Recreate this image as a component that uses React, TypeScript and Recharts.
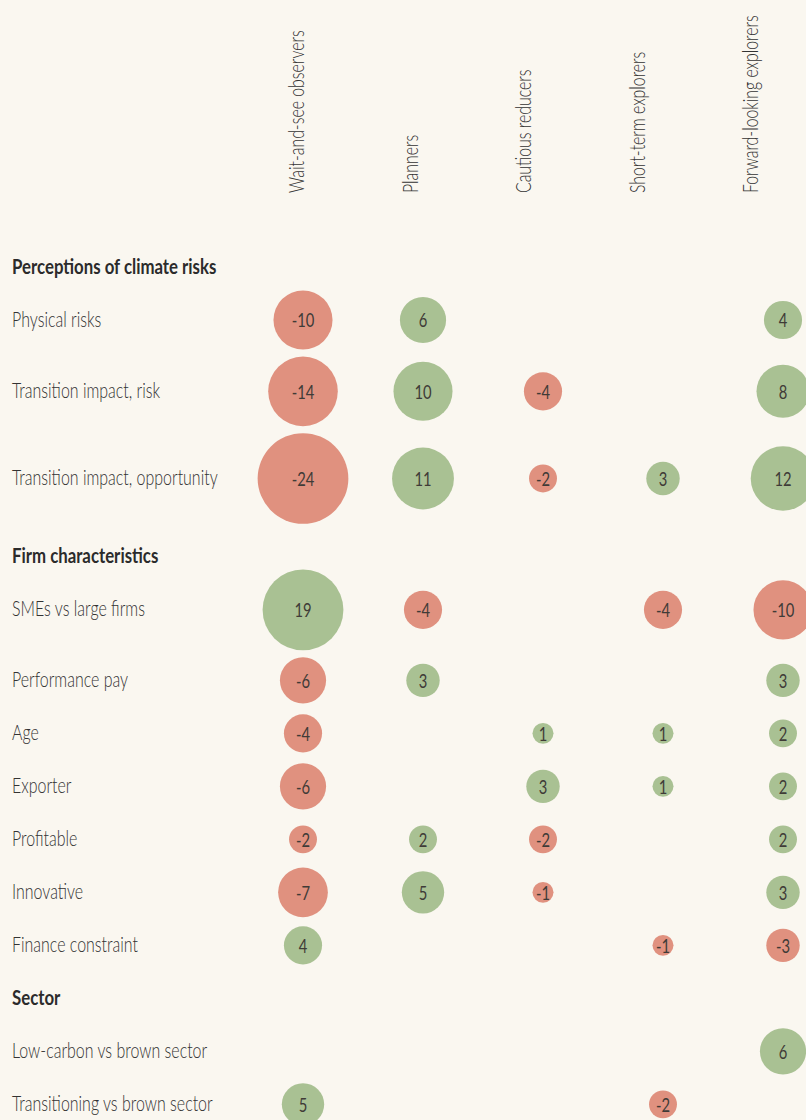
import React from "react";
import { ScatterChart, Scatter, XAxis, YAxis, ZAxis } from "recharts";

// ---- data ----
const segments = [
  "Wait-and-see observers",
  "Planners",
  "Cautious reducers",
  "Short-term explorers",
  "Forward-looking explorers",
];
const groups = ["Perceptions of climate risks", "Firm characteristics", "Sector"];
const rowNames = [
  "Physical risks",
  "Transition impact, risk",
  "Transition impact, opportunity",
  "SMEs vs large firms",
  "Performance pay",
  "Age",
  "Exporter",
  "Profitable",
  "Innovative",
  "Finance constraint",
  "Low-carbon vs brown sector",
  "Transitioning vs brown sector",
];
const rowGroup = [0, 0, 0, 1, 1, 1, 1, 1, 1, 1, 2, 2];

const waitAndSee = [-10, -14, -24, 19, -6, -4, -6, -2, -7, 4, null, 5];
const planners = [6, 10, 11, -4, 3, null, null, 2, 5, null, null, null];
const cautiousReducers = [null, -4, -2, null, null, 1, 3, -2, -1, null, null, null];
const shortTermExplorers = [null, null, 3, -4, null, 1, 1, null, null, -1, null, -2];
const forwardLooking = [4, 8, 12, -10, 3, 2, 2, 2, 3, -3, 6, null];
const seriesValues: (number | null)[][] = [
  waitAndSee,
  planners,
  cautiousReducers,
  shortTermExplorers,
  forwardLooking,
];

// ---- style ----
const W = 806;
const H = 1120;
const BG = "#faf7f0";
const RED = "#e0917f";
const GREEN = "#a9c193";
const TEXT = "#333333";
const FONT = "Lato, 'Noto Sans', sans-serif";
const SQ_ROW = 0.76;
const SQ_HEAD = 0.8;
const SQ_COL = 0.72;
const SQ_NUM = 0.74;
const Z_MAX = 24;
const AREA_RANGE: [number, number] = [80, 6464];
const TOP_H = 230;
const LEFT_W = 303;
const RIGHT_M = 23;
const PLOT_H = H - TOP_H;

const radiusOf = (v: number) =>
  Math.sqrt((AREA_RANGE[0] + ((AREA_RANGE[1] - AREA_RANGE[0]) * Math.abs(v)) / Z_MAX) / Math.PI);

// ---- layout of rows (derived from bubble sizes) ----
type Item = { label: string; header: boolean; maxR: number; row: number };
const items: Item[] = [];
groups.forEach((g, gi) => {
  items.push({ label: g, header: true, maxR: 0, row: -1 });
  rowNames.forEach((name, ri) => {
    if (rowGroup[ri] !== gi) return;
    let m = 0;
    seriesValues.forEach((s) => {
      const v = s[ri];
      if (v != null) m = Math.max(m, radiusOf(v));
    });
    items.push({ label: name, header: false, maxR: m, row: ri });
  });
});
const positions: number[] = [];
items.forEach((it, i) => {
  if (i === 0) {
    positions.push(37);
    return;
  }
  const prev = items[i - 1];
  let gap: number;
  if (it.header) gap = Math.max(53, prev.maxR + 33);
  else if (prev.header) gap = 53;
  else gap = Math.max(53, prev.maxR + it.maxR + 7);
  positions.push(positions[i - 1] + gap);
});
const rowPos: number[] = rowNames.map((_, ri) => positions[items.findIndex((it) => it.row === ri)]);

const points: { x: number; y: number; z: number; v: number }[] = [];
seriesValues.forEach((s, ci) => {
  s.forEach((v, ri) => {
    if (v == null) return;
    points.push({ x: ci, y: rowPos[ri], z: Math.abs(v), v });
  });
});

const ColTick = (props: any) => {
  const { x, index, payload } = props;
  const bx = x + 1 - index * 6.5;
  return (
    <text
      transform={`translate(${bx}, 193) rotate(-90) scale(${SQ_COL}, 1)`}
      textAnchor="start"
      fontFamily={FONT}
      fontSize={22}
      fontWeight={300}
      fill={TEXT}
    >
      {segments[payload.value]}
    </text>
  );
};

const RowTick = (props: any) => {
  const { y, payload } = props;
  const idx = positions.indexOf(payload.value);
  const it = items[idx];
  if (!it) return null;
  return (
    <text
      transform={`translate(12, ${y - 1}) scale(${it.header ? SQ_HEAD : SQ_ROW}, 1)`}
      dy="0.36em"
      textAnchor="start"
      fontFamily={FONT}
      fontSize={21}
      fontWeight={it.header ? 700 : 300}
      fill={it.header ? "#2b2b2b" : TEXT}
    >
      {it.label}
    </text>
  );
};

const Bubble = (props: any) => {
  const { cx, cy, width, payload } = props;
  const r = width / 2;
  return (
    <g>
      <circle cx={cx} cy={cy} r={r} fill={payload.v < 0 ? RED : GREEN} />
      <text
        transform={`translate(${cx}, ${cy}) scale(${SQ_NUM}, 1)`}
        dy="0.36em"
        textAnchor="middle"
        fontFamily={FONT}
        fontSize={20}
        fontWeight={400}
        fill="#3f3b37"
      >
        {payload.v}
      </text>
    </g>
  );
};

export default function App() {
  return (
    <div style={{ width: W, height: H, background: BG, overflow: "hidden" }}>
      <style>{`html,body{margin:0;padding:0;background:${BG};}`}</style>
      <ScatterChart width={W} height={H} margin={{ top: 0, right: RIGHT_M, bottom: 0, left: 0 }}>
        <XAxis
          type="number"
          dataKey="x"
          domain={[0, 4]}
          ticks={[0, 1, 2, 3, 4]}
          orientation="top"
          height={TOP_H}
          axisLine={false}
          tickLine={false}
          interval={0}
          tick={<ColTick />}
        />
        <YAxis
          type="number"
          dataKey="y"
          domain={[0, PLOT_H]}
          reversed
          ticks={positions}
          width={LEFT_W}
          axisLine={false}
          tickLine={false}
          interval={0}
          tick={<RowTick />}
        />
        <ZAxis type="number" dataKey="z" domain={[0, Z_MAX]} range={AREA_RANGE} />
        <Scatter data={points} shape={<Bubble />} isAnimationActive={false} />
      </ScatterChart>
    </div>
  );
}
